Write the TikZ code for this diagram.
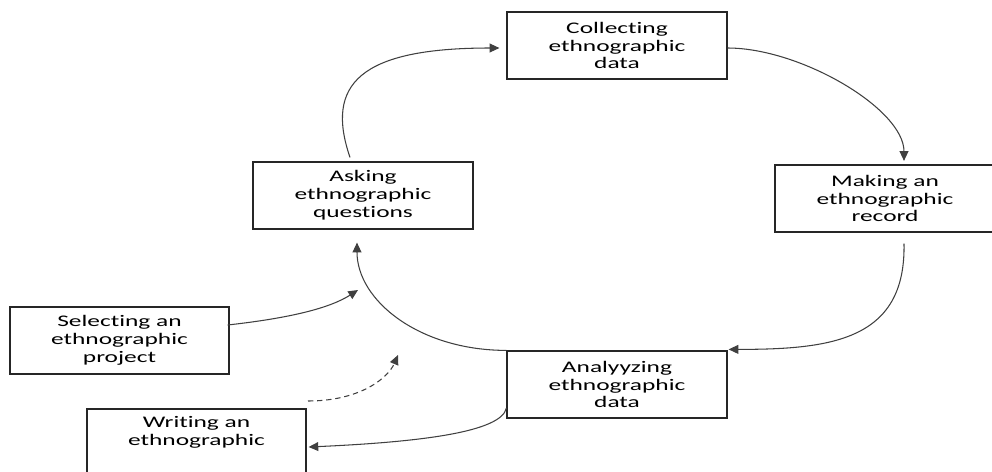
\documentclass[tikz,border=0pt]{standalone}
\usepackage{fontspec}
\setmainfont{Carlito}[FakeStretch=1.57,Ligatures={NoCommon}]
\usetikzlibrary{arrows.meta,calc}
\begin{document}
\begin{tikzpicture}[x=0.02cm,y=-0.02cm,
  box/.style={draw=black!85,line width=0.7pt,minimum width=4.4cm,minimum height=1.34cm,
    align=center,inner sep=0pt,font=\fontsize{9.2}{10.2}\selectfont,text=black},
  conn/.style={draw=black!75,line width=0.6pt,-{Triangle[length=5.5pt,width=5pt]}},
  dashconn/.style={conn,dash pattern=on 3pt off 2.2pt}
]
\clip (0,0) rectangle (992,471);
\fill[white] (0,0) rectangle (992,471);
\node[box] (col) at (617,45.5) {Collecting\\ethnographic\\data};
\node[box] (mak) at (885,198.5) {Making an\\ethnographic\\record};
\node[box] (ask) at (363,195.5) {Asking\\ethnographic\\questions};
\node[box] (ana) at (617,384.5) {Analyyzing\\ethnographic\\data};
\node[box,minimum width=4.38cm] (sel) at (119.5,340.5) {Selecting an\\ethnographic\\project};
\node[box,minimum width=4.38cm] (wri) at (196.5,442.5) {Writing an\\ethnographic\\\strut};
\coordinate (selend) at (358,290);
\coordinate (dstart) at (308,401);
\coordinate (dend) at (398,355);
\draw[conn] ($(ask.north)+(-13,-4)$) .. controls +(-25,-73) and +(-140,0) .. ($(col.west)+(-7,2.5)$);
\draw[conn] ($(col.east)+(0,2.5)$) .. controls +(73,0) and +(0,-52) .. ($(mak.north)+(19,-3.5)$);
\draw[conn] ($(mak.south)+(19,11)$) .. controls +(2,97) and +(102,0) .. ($(ana.north east)+(1,-1)$);
\draw[conn] (ana.north west) .. controls +(-87,0) and +(0,58) .. ($(ask.south)+(-6,13)$);
\draw[conn] ($(sel.east)+(-2,-15.5)$) .. controls +(63,-7) and +(-28,18) .. (selend);
\draw[dashconn] (dstart) .. controls +(52,0) and +(-10,23) .. (dend);
\draw[conn] ($(ana.west)+(0,23.5)$) .. controls +(-5,24) and +(112,-5) .. ($(wri.east)+(2,4.5)$);
\end{tikzpicture}
\end{document}
